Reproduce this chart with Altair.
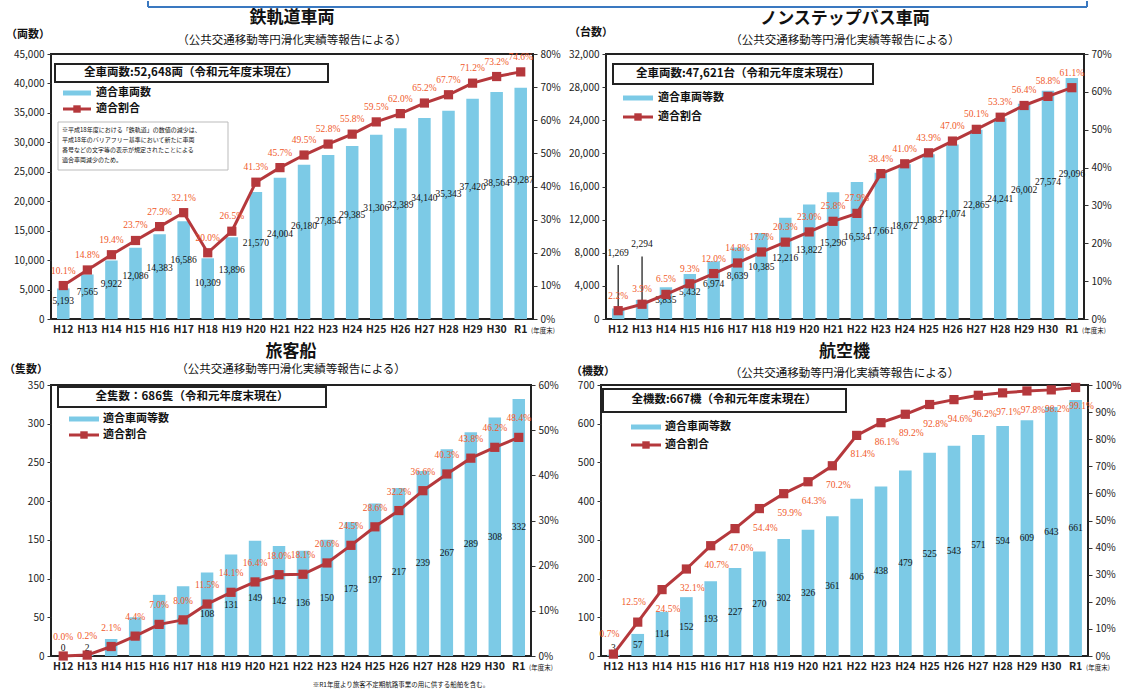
import altair as alt
import pandas as pd

years = ["H12", "H13", "H14", "H15", "H16", "H17", "H18", "H19", "H20", "H21",
         "H22", "H23", "H24", "H25", "H26", "H27", "H28", "H29", "H30", "R1"]

rail_counts = [5193, 7565, 9922, 12086, 14383, 16586, 10309, 13896, 21570, 24004,
               26180, 27854, 29385, 31306, 32389, 34140, 35343, 37420, 38564, 39287]
rail_pcts = [10.1, 14.8, 19.4, 23.7, 27.9, 32.1, 20.0, 26.5, 41.3, 45.7,
             49.5, 52.8, 55.8, 59.5, 62.0, 65.2, 67.7, 71.2, 73.2, 74.6]

bus_counts = [1269, 2294, 3835, 5432, 6974, 8639, 10385, 12216, 13822, 15296,
              16534, 17661, 18672, 19883, 21074, 22865, 24241, 26002, 27574, 29096]
bus_pcts = [2.2, 3.9, 6.5, 9.3, 12.0, 14.8, 17.7, 20.3, 23.0, 25.8,
            27.9, 38.4, 41.0, 43.9, 47.0, 50.1, 53.3, 56.4, 58.8, 61.1]

ship_counts = [0, 2, 22, 50, 79, 90, 108, 131, 149, 142,
               136, 150, 173, 197, 217, 239, 267, 289, 308, 332]
ship_pcts = [0.0, 0.2, 2.1, 4.4, 7.0, 8.0, 11.5, 14.1, 16.4, 18.0,
             18.1, 20.6, 24.5, 28.6, 32.2, 36.6, 40.3, 43.8, 46.2, 48.4]

air_counts = [3, 57, 114, 152, 193, 227, 270, 302, 326, 361,
              406, 438, 479, 525, 543, 571, 594, 609, 643, 661]
air_pcts = [0.7, 12.5, 24.5, 32.1, 40.7, 47.0, 54.4, 59.9, 64.3, 70.2,
            81.4, 86.1, 89.2, 92.8, 94.6, 96.2, 97.1, 97.8, 98.2, 99.1]

FONT = "Noto Sans CJK JP"
NUMFONT = "Liberation Sans Narrow"
BLUE = "#7ccae6"
RED = "#b5383c"
ORANGE = "#f0592a"
FRAME_BLUE = "#3a78c0"
SUB = "（公共交通移動等円滑化実績等報告による）"

one = pd.DataFrame({"k": [0]})


def txt(s, x, y, size=10, weight="normal", align="left", color="#111"):
    return alt.Chart(one).mark_text(text=s, fontSize=size, fontWeight=weight, align=align,
                                    baseline="middle", color=color, font=FONT).encode(
        x=alt.value(x), y=alt.value(y))


def box(x1, x2, y1, y2, stroke="#222", sw=2):
    return alt.Chart(one).mark_rect(fill="white", stroke=stroke, strokeWidth=sw).encode(
        x=alt.value(x1), x2=alt.value(x2), y=alt.value(y1), y2=alt.value(y2))


def legend(lx1, lx2, ly1, ly2, tx, label1, label2):
    mid = (lx1 + lx2) / 2
    return [
        alt.Chart(one).mark_rule(color=BLUE, strokeWidth=5).encode(
            x=alt.value(lx1), x2=alt.value(lx2), y=alt.value(ly1)),
        txt(label1, tx, ly1, size=11, weight="bold"),
        alt.Chart(one).mark_rule(color=RED, strokeWidth=3).encode(
            x=alt.value(lx1), x2=alt.value(lx2), y=alt.value(ly2)),
        alt.Chart(one).mark_square(color=RED, size=55, opacity=1).encode(
            x=alt.value(mid), y=alt.value(ly2)),
        txt(label2, tx, ly2, size=11, weight="bold"),
    ]


def heading(title, w, ty, sy):
    return [txt(title, w / 2, ty, size=17, weight="bold", align="center"),
            txt(SUB, w / 2, sy, size=11.5, align="center")]


def panel(counts, pcts, cmax, cstep, pmax, pstep, w, h, lab_factor, lab_min,
          deco, air=False, callout=0, pdy=-15):
    df = pd.DataFrame({"year": years, "count": counts, "pct": pcts})
    base = alt.Chart(df)
    xenc = alt.X("year:N", sort=years,
                 scale=alt.Scale(paddingInner=0.48, paddingOuter=0.25),
                 axis=alt.Axis(title=None, labelAngle=0, ticks=False, domain=False,
                               labelFontSize=10.5, labelPadding=5, labelFontWeight="bold"))
    lscale = alt.Scale(domain=[0, cmax], nice=False)
    rscale = alt.Scale(domain=[0, pmax], nice=False)
    yl = alt.Y("count:Q", scale=lscale,
               axis=alt.Axis(title=None, values=list(range(0, cmax + 1, cstep)), format=",d",
                             tickSize=4, domain=False, labelPadding=3, orient="left"))
    layers = []
    layers.append(base.mark_bar(color=BLUE).encode(x=xenc, y=yl))
    if callout:
        cbase = base.transform_filter(f"datum.count < {callout}")
        rest = base.transform_filter(f"datum.count >= {callout}")
        layers.append(cbase.transform_calculate(
            ly2=f"datum.count + {callout * 1.75}"
        ).mark_rule(color="#111", strokeWidth=1.2).encode(
            x=xenc, y=alt.Y("ly2:Q", scale=lscale, axis=None), y2="count:Q"))
        layers.append(cbase.transform_calculate(ly=f"datum.count + {callout * 2.05}").mark_text(
            fontSize=9.5, color="#111", font=NUMFONT, baseline="bottom").encode(
            x=xenc, y=alt.Y("ly:Q", scale=lscale, axis=None),
            text=alt.Text("count:Q", format=",d")))
    else:
        rest = base
    layers.append(rest.transform_calculate(
        ly=f"max(datum.count*{lab_factor},{lab_min})"
    ).mark_text(fontSize=9.5, color="#111", font=NUMFONT).encode(
        x=xenc, y=alt.Y("ly:Q", scale=lscale, axis=None),
        text=alt.Text("count:Q", format=",d")))

    yr = alt.Y("pct:Q", scale=rscale,
               axis=alt.Axis(title=None, orient="right", values=list(range(0, pmax + 1, pstep)),
                             labelExpr="datum.value + '%'", tickSize=4, domain=False,
                             labelPadding=3))
    layers.append(base.mark_line(color=RED, strokeWidth=3).encode(x=xenc, y=yr))
    layers.append(base.mark_square(color=RED, size=85, opacity=1).encode(
        x=xenc, y=alt.Y("pct:Q", scale=rscale, axis=None)))
    pbase = base.transform_calculate(lab="format(datum.pct, '.1f') + '%'")
    if air:
        layers.append(pbase.transform_filter("datum.pct < 15").mark_text(
            fontSize=9.5, color=ORANGE, font=NUMFONT, dy=-20, dx=-4).encode(
            x=xenc, y=alt.Y("pct:Q", scale=rscale, axis=None), text="lab:N"))
        layers.append(pbase.transform_filter("datum.pct >= 15").mark_text(
            fontSize=9.5, color=ORANGE, font=NUMFONT, dy=19, dx=6).encode(
            x=xenc, y=alt.Y("pct:Q", scale=rscale, axis=None), text="lab:N"))
    else:
        layers.append(pbase.mark_text(fontSize=9.5, color=ORANGE, font=NUMFONT, dy=pdy).encode(
            x=xenc, y=alt.Y("pct:Q", scale=rscale, axis=None), text="lab:N"))

    yend = txt("(年度末)", w - 2, h + 12, size=6.5)
    ch = alt.layer(*layers, *deco, yend).resolve_scale(y="independent").properties(
        width=w, height=h)
    return ch


# --- top decorative frame (bottom edge of the slide heading box)
FX1, FX2 = 97, 1036
top_frame = alt.layer(
    alt.Chart(one).mark_rule(color=FRAME_BLUE, strokeWidth=2).encode(
        x=alt.value(FX1), x2=alt.value(FX2), y=alt.value(6)),
    alt.Chart(one).mark_rule(color=FRAME_BLUE, strokeWidth=2).encode(
        x=alt.value(FX1), y=alt.value(0), y2=alt.value(6)),
    alt.Chart(one).mark_rule(color=FRAME_BLUE, strokeWidth=2).encode(
        x=alt.value(FX2), y=alt.value(0), y2=alt.value(6)),
).properties(width=1040, height=6, view=alt.ViewBackground(stroke=None))

# --- top-left: railway
W1, H1 = 482, 265
tl_deco = [*heading("鉄軌道車両", W1, -36, -13),
           box(4, 277, 10, 28),
           txt("全車両数:52,648両（令和元年度末現在）", 140, 19, size=11.5, weight="bold", align="center"),
           *legend(12, 40, 39, 55, 45, "適合車両数", "適合割合"),
           box(7, 177, 68, 116, stroke="#bbb", sw=1),
           txt("※平成18年度における「鉄軌道」の数値の減少は、", 11, 76, size=6),
           txt("　平成18年のバリアフリー基準において新たに車両", 11, 86, size=6),
           txt("　番号などの文字等の表示が規定されたことによる", 11, 96, size=6),
           txt("　適合車両減少のため。", 11, 106, size=6),
           txt("（両数）", -45, -19, size=11, weight="bold")]
tl = panel(rail_counts, rail_pcts, 45000, 5000, 80, 10, W1, H1,
           0.6, 1800, tl_deco)

# --- top-right: bus
W2, H2 = 478, 265
tr_deco = [*heading("ノンステップバス車両", W2, -35, -13),
           box(7, 267, 10, 30),
           txt("全車両数:47,621台（令和元年度末現在）", 137, 20, size=11.5, weight="bold", align="center"),
           *legend(17, 47, 44, 63, 52, "適合車両等数", "適合割合"),
           txt("（台数）", -37, -21, size=11, weight="bold")]
tr = panel(bus_counts, bus_pcts, 32000, 4000, 70, 10, W2, H2,
           0.6, 1300, tr_deco, callout=3000)

# --- bottom-left: ship
W3, H3 = 480, 271
bl_deco = [*heading("旅客船", W3, -33, -15),
           box(7, 275, 2, 22),
           txt("全隻数：686隻（令和元年度末現在）", 141, 12, size=11.5, weight="bold", align="center"),
           *legend(18, 48, 34, 50, 52, "適合車両等数", "適合割合"),
           txt("（隻数）", -47, -15, size=11, weight="bold"),
           txt("※R1年度より旅客不定期航路事業の用に供する船舶を含む。", 350, 300, size=6.5, align="center")]
bl = panel(ship_counts, ship_pcts, 350, 50, 60, 10, W3, H3,
           0.5, 10, bl_deco, pdy=-19)

# --- bottom-right: aircraft
W4, H4 = 487, 271
br_deco = [*heading("航空機", W4, -33, -11),
           box(2, 245, 4, 27),
           txt("全機数:667機（令和元年度末現在）", 123, 15, size=11.5, weight="bold", align="center"),
           *legend(30, 60, 42, 60, 64, "適合車両等数", "適合割合"),
           txt("（機数）", -30, -13, size=11, weight="bold")]
br = panel(air_counts, air_pcts, 700, 100, 100, 10, W4, H4,
           0.5, 20, br_deco, air=True)

chart = alt.vconcat(
    top_frame,
    alt.vconcat(
        alt.hconcat(tl, tr, spacing=5),
        alt.hconcat(bl, br, spacing=10),
        spacing=6,
    ),
    spacing=0,
).properties(
    padding={"left": 3, "top": 0, "right": 2, "bottom": 0},
    background="white",
).configure_view(
    stroke="#222", strokeWidth=2
).configure_axis(
    grid=False, labelFont=FONT, labelFontSize=10, labelColor="#222", tickColor="#333"
)

chart.save("out.html", embed_options={"renderer": "svg", "actions": False})
